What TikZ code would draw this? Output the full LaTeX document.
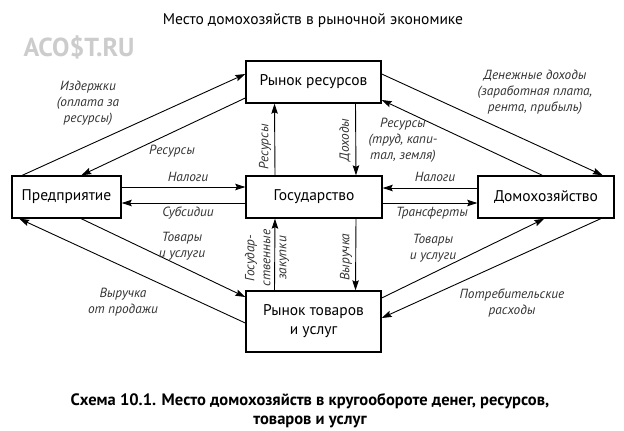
\documentclass[tikz,border=0pt]{standalone}
\usepackage{fontspec}
\setmainfont{PT Sans}
\usetikzlibrary{arrows.meta,calc}
\begin{document}
\begin{tikzpicture}[x=1pt,y=-1pt,
  box/.style={draw, line width=1.4pt, minimum height=42pt, inner sep=0pt,
    font=\fontsize{15.5}{19}\selectfont, align=center},
  flow/.style={line width=0.9pt, -{Stealth[length=10pt,width=6.5pt,inset=1.5pt]}},
  lbl/.style={font=\itshape\fontsize{13.3}{16}\selectfont, text=black!80, align=center, inner sep=0pt}]
\useasboundingbox (0,0) rectangle (624,431);
\fill[white] (0,0) rectangle (624,431);

% titles
\node[font=\fontsize{15.5}{17}\selectfont] (title) at (313,21) {Место домохозяйств в рыночной экономике};
\node[font=\bfseries\fontsize{26}{26}\selectfont, text=black!20] (wm) at (79,47) {ACO\$T.RU};
\node[font=\bfseries\fontsize{16.5}{19}\selectfont, align=center] (cap) at (310,411)
  {Схема 10.1. Место домохозяйств в кругообороте денег, ресурсов,\\товаров и услуг};

% boxes
\node[box, minimum width=135pt] (res) at (313.5,82) {Рынок ресурсов};
\node[box, minimum width=136pt] (gov) at (314,197) {Государство};
\node[box, minimum width=135pt, minimum height=61pt] (goods) at (313.5,321.5) {Рынок товаров\\и услуг};
\node[box, minimum width=109pt] (firm) at (66.5,197) {Предприятие};
\node[box, minimum width=136pt] (hh) at (546,197) {Домохозяйство};

% top-left
\draw[flow] ([xshift=11pt]firm.north west) -- ([yshift=8pt]res.west);
\draw[flow] ([yshift=-16pt]res.west) -- ([xshift=70pt]firm.north west);
% top-right
\draw[flow] ([yshift=8pt]res.east) -- ([xshift=-12pt]hh.north east);
\draw[flow] ([xshift=65pt]hh.north west) -- ([yshift=-18pt]res.east);
% bottom-left
\draw[flow] ([xshift=70pt]firm.south west) -- ([yshift=24.5pt]goods.west);
\draw[flow] ([yshift=-1.5pt]goods.west) -- ([xshift=8pt]firm.south west);
% bottom-right
\draw[flow] ([yshift=23.5pt]goods.east) -- ([xshift=67pt]hh.south west);
\draw[flow] ([xshift=-14pt]hh.south east) -- ([yshift=3.5pt]goods.east);
% horizontal
\draw[flow] ([yshift=10pt]firm.east) -- ([yshift=10pt]gov.west);
\draw[flow] ([yshift=-6pt]gov.west) -- ([yshift=-6pt]firm.east);
\draw[flow] ([yshift=9pt]hh.west) -- ([yshift=9pt]gov.east);
\draw[flow] ([yshift=-6pt]gov.east) -- ([yshift=-6pt]hh.west);
% vertical
\draw[flow] ([xshift=-39pt]gov.north) -- ([xshift=-39pt]res.south);
\draw[flow] ([xshift=42pt]res.south) -- ([xshift=42pt]gov.north);
\draw[flow] ([xshift=-39pt]goods.north) -- ([xshift=-39pt]gov.south);
\draw[flow] ([xshift=42pt]gov.south) -- ([xshift=42pt]goods.north);

% labels
\node[lbl] (l1) at (88,103) {Издержки\\(оплата за\\ресурсы)};
\node[lbl] (l2) at (172,151) {Ресурсы};
\node[lbl] (l3) at (535,92) {Денежные доходы\\(заработная плата,\\рента, прибыль)};
\node[lbl] (l4) at (403,140) {Ресурсы\\(труд, капи-\\тал, земля)};
\node[lbl] (l5) at (188,177) {Налоги};
\node[lbl] (l6) at (188,213) {Субсидии};
\node[lbl] (l7) at (435,177) {Налоги};
\node[lbl] (l8) at (432,213) {Трансферты};
\node[lbl, rotate=90] (l9) at (265,147) {Ресурсы};
\node[lbl, rotate=90] (l10) at (345,140) {Доходы};
\node[lbl, rotate=90] (l11) at (267,258) {Государ-\\ственные\\закупки};
\node[lbl, rotate=90] (l12) at (346,257) {Выручка};
\node[lbl] (l13) at (182,246) {Товары\\и услуги};
\node[lbl] (l14) at (123,302) {Выручка\\от продажи};
\node[lbl] (l15) at (433,248) {Товары\\и услуги};
\node[lbl] (l16) at (512,303) {Потребительские\\расходы};
\end{tikzpicture}
\end{document}
